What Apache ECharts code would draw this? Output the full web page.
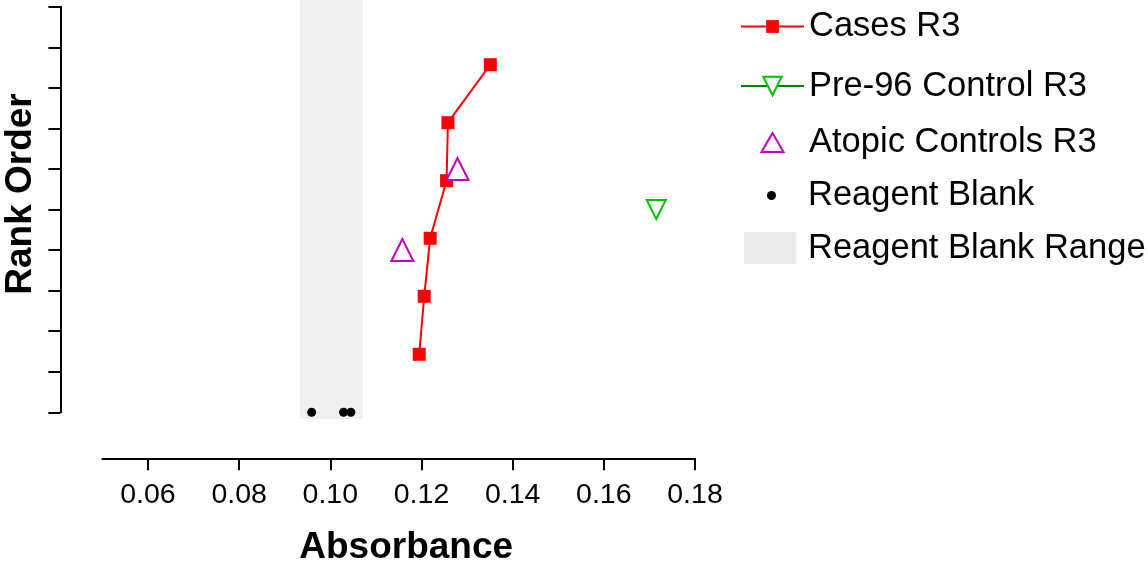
<!DOCTYPE html>
<html>
<head>
<meta charset="utf-8">
<script src="https://cdn.jsdelivr.net/npm/echarts@6/dist/echarts.min.js"></script>
<style>
html,body{margin:0;padding:0;background:#fff;}
#chart{width:1148px;height:565px;}
</style>
</head>
<body>
<div id="chart"></div>
<script>
// ---- data ----
var casesX = [0.1195, 0.1206, 0.1219, 0.1255, 0.1258, 0.1351];
var casesY = [1.43, 2.86, 4.29, 5.71, 7.14, 8.57];
var pre96X = [0.1715];
var pre96Y = [5];
var atopicX = [0.1158, 0.1279];
var atopicY = [4, 6];
var blankX = [0.0959, 0.1029, 0.1045];
var blankY = [0, 0, 0];
var blankRangeX = [0.0934, 0.1071];
var blankRangeY = [-0.165, 10.2];
var xTicks = [0.06, 0.08, 0.10, 0.12, 0.14, 0.16, 0.18];
var seriesNames = ['Cases R3', 'Pre-96 Control R3', 'Atopic Controls R3', 'Reagent Blank', 'Reagent Blank Range'];

function pairs(xs, ys) { return xs.map(function (x, i) { return [x, ys[i]]; }); }

var FONT = "'Liberation Sans', Arial, Helvetica, sans-serif";
var chart = echarts.init(document.getElementById('chart'), null, {renderer: 'canvas'});

function legendAt(name, top, itemHeight, extra) {
  var item = Object.assign({name: name}, extra || {});
  return {
    orient: 'vertical', left: 740, top: top, padding: 0,
    itemWidth: 63, itemHeight: itemHeight, symbolKeepAspect: false,
    selectedMode: false,
    textStyle: {fontSize: 34.5, color: '#000', fontFamily: FONT},
    data: [item]
  };
}

var option = {
  backgroundColor: '#fff',
  animation: false,
  grid: {left: 102.4, right: 453, top: 6.7, bottom: 152.7, outerBoundsMode: 'none', containLabel: false},
  legend: [
    legendAt(seriesNames[0], 26 - 17, 16),
    legendAt(seriesNames[1], 85.5 - 17, 23),
    legendAt(seriesNames[2], 142 - 17, 22, {
      icon: 'path://M0 0M63 22M31.5 1.5L42.5 20.5L20.5 20.5Z',
      itemStyle: {color: '#fff', borderColor: '#c000c0', borderWidth: 2}
    }),
    legendAt(seriesNames[3], 195 - 17, 9, {
      icon: 'path://M0 0M63 9M27 4.5a4.5 4.5 0 1 0 9 0a4.5 4.5 0 1 0 -9 0Z',
      itemStyle: {color: '#000', opacity: 1}
    }),
    legendAt(seriesNames[4], 247.5 - 17, 32, {
      icon: 'path://M0 0M63 32M4 0H56V32H4Z',
      itemStyle: {color: '#eaeaea'}
    })
  ],
  xAxis: {
    type: 'value', min: 0.05, max: 0.18, offset: 46,
    axisLine: {show: true, onZero: false, lineStyle: {color: '#000', width: 2}},
    axisTick: {show: true, customValues: xTicks, length: 12, lineStyle: {color: '#000', width: 2}},
    axisLabel: {show: true, customValues: xTicks, fontSize: 28.5, color: '#000', fontFamily: FONT, margin: 22,
      formatter: function (v) { return v.toFixed(2); }},
    splitLine: {show: false},
    name: 'Absorbance', nameLocation: 'middle', nameGap: 71,
    nameTextStyle: {fontSize: 37, fontWeight: 'bold', color: '#000', fontFamily: FONT, padding: [0, 0, 0, 15]}
  },
  yAxis: {
    type: 'value', min: 0, max: 10, interval: 1, offset: 42,
    axisLine: {show: true, onZero: false, lineStyle: {color: '#000', width: 2}},
    axisTick: {show: true, length: 12, lineStyle: {color: '#000', width: 2}},
    axisLabel: {show: false},
    splitLine: {show: false},
    name: 'Rank Order', nameLocation: 'middle', nameRotate: 90, nameGap: 21,
    nameTextStyle: {fontSize: 37, fontWeight: 'bold', color: '#000', fontFamily: FONT, padding: [0, 0, 0, 31]}
  },
  series: [
    {
      name: seriesNames[4], type: 'custom', z: 1, clip: false, silent: true,
      itemStyle: {color: '#efefef'},
      data: [[blankRangeX[0], blankRangeX[1], blankRangeY[0], blankRangeY[1]]],
      encode: {x: [0, 1], y: [2, 3]},
      renderItem: function (params, api) {
        var p1 = api.coord([api.value(0), api.value(3)]);
        var p2 = api.coord([api.value(1), api.value(2)]);
        return {type: 'rect', shape: {x: p1[0], y: p1[1], width: p2[0] - p1[0], height: p2[1] - p1[1]},
          style: {fill: '#efefef'}};
      }
    },
    {
      name: seriesNames[3], type: 'scatter', z: 3, symbol: 'circle', symbolSize: 9,
      itemStyle: {color: '#000', opacity: 1}, data: pairs(blankX, blankY)
    },
    {
      name: seriesNames[0], type: 'line', z: 4, symbol: 'rect', symbolSize: 13,
      itemStyle: {color: '#ff0000'}, lineStyle: {color: '#ff0000', width: 2},
      data: pairs(casesX, casesY)
    },
    {
      name: seriesNames[1], type: 'line', z: 4, symbol: 'emptyTriangle', symbolRotate: 180, symbolSize: 19,
      itemStyle: {color: '#00c000', borderWidth: 2}, lineStyle: {color: '#008000', width: 2},
      data: pairs(pre96X, pre96Y)
    },
    {
      name: seriesNames[2], type: 'scatter', z: 5, symbol: 'emptyTriangle', symbolSize: 22,
      itemStyle: {color: '#c000c0', borderWidth: 2, opacity: 1},
      data: pairs(atopicX, atopicY)
    }
  ]
};
chart.setOption(option);
</script>
</body>
</html>
